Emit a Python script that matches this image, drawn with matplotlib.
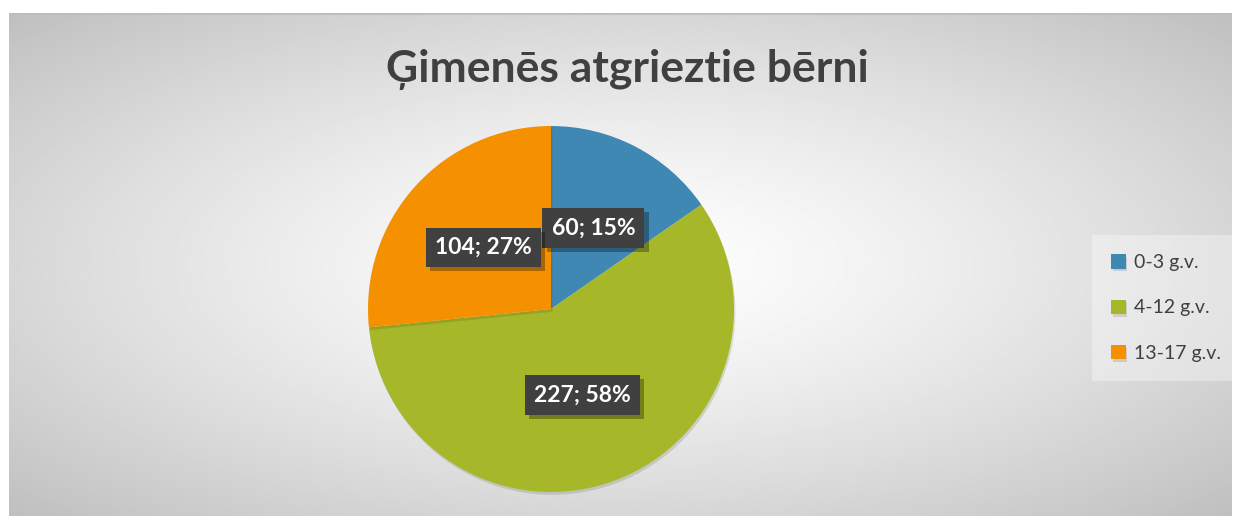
import numpy as np
import matplotlib.pyplot as plt
import matplotlib.patheffects as pe

# data
categories = ['0-3 g.v.', '4-12 g.v.', '13-17 g.v.']
counts = [60, 227, 104]
colors = ['#3F88B4', '#A6B729', '#F59100']
title = 'Ģimenēs atgrieztie bērni'

plt.rcParams['font.family'] = ['Lato', 'DejaVu Sans']

W, H = 1234, 516
fig = plt.figure(figsize=(W / 100, H / 100), dpi=100)
fig.patch.set_facecolor('white')

# chart area background: radial gradient
x0, y0, x1, y1 = 9, 13, 1232, 516
bg = fig.add_axes([x0 / W, 1 - y1 / H, (x1 - x0) / W, (y1 - y0) / H])
gx, gy = np.meshgrid(np.linspace(-1, 1, 600), np.linspace(-1, 1, 300))
r = np.sqrt(gx ** 2 + gy ** 2) / np.sqrt(2)
shade = 1.0 - 0.25 * np.clip(r, 0, 1) ** 1.3
bg.imshow(shade, cmap='gray', vmin=0, vmax=1, aspect='auto', extent=[0, 1, 0, 1])
bg.axhline(1, color='#bdbdbd', lw=2)
bg.axis('off')

# pie
cx, cy, rad = 551, 309, 183
ax = fig.add_axes([(cx - rad) / W, 1 - (cy + rad) / H, 2 * rad / W, 2 * rad / H])
total = sum(counts)


def fmt(pct):
    v = int(round(pct * total / 100))
    return f'{v}; {pct:.0f}%'


wedges, texts, autotexts = ax.pie(
    counts, colors=colors, startangle=90, counterclock=False,
    autopct=fmt, pctdistance=0.5, radius=1,
    wedgeprops=dict(linewidth=0, edgecolor='none'))
ax.set_xlim(-1, 1)
ax.set_ylim(-1, 1)
ax.set_aspect('equal')
for w in wedges:
    w.set_path_effects([pe.SimplePatchShadow(offset=(1, -2), alpha=0.15), pe.Normal()])
for t in autotexts:
    t.set_color('white')
    t.set_fontsize(16.5)
    t.set_fontweight('bold')
    t.set_bbox(dict(boxstyle='square,pad=0.4', facecolor='#404040', edgecolor='none',
                    linewidth=0))
    t.get_bbox_patch().set_path_effects(
        [pe.SimplePatchShadow(offset=(3, -3), shadow_rgbFace='black', alpha=0.3), pe.Normal()])

# title
fig.text(627 / W, 1 - 70 / H, title, ha='center', va='center',
         fontsize=32, fontweight='bold', color='#404040')

# legend
leg = fig.legend(wedges, categories, loc='center left',
                 bbox_to_anchor=(1088 / W, 1 - 308 / H),
                 frameon=True, fontsize=14, handlelength=0.75, handleheight=0.75,
                 labelspacing=1.45, borderpad=0.7, handletextpad=0.4,
                 labelcolor='#404040')
leg.get_frame().set_facecolor('white')
leg.get_frame().set_alpha(0.35)
leg.get_frame().set_edgecolor('none')
leg.get_frame().set_boxstyle('square')

fig.savefig('out.png', dpi=100, facecolor='white')
